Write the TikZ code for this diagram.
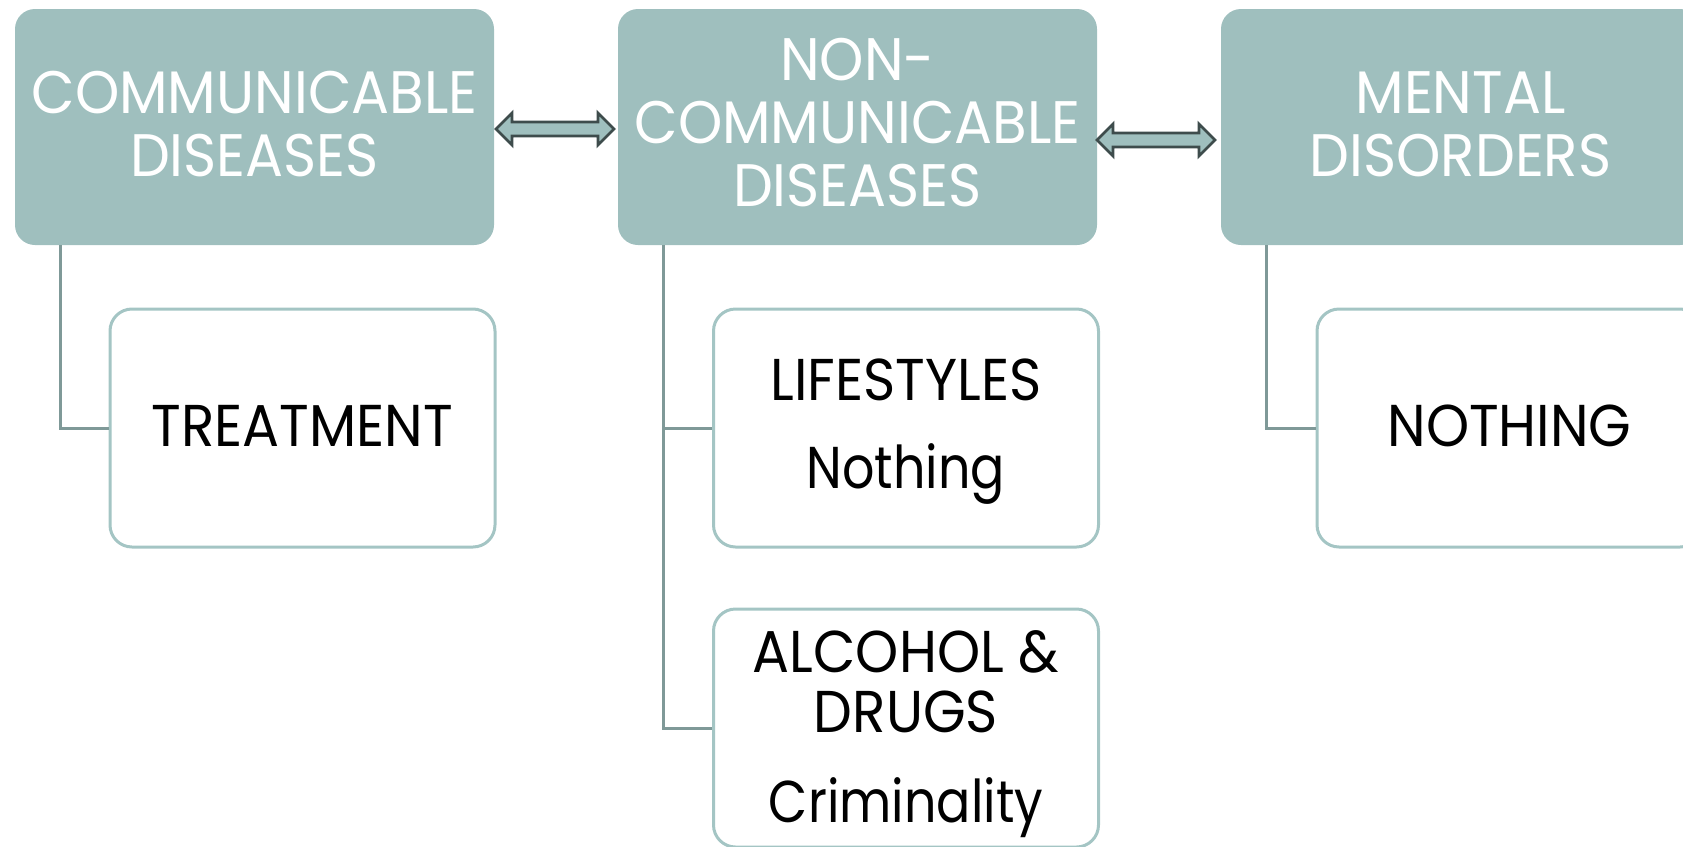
\documentclass[tikz,border=0pt]{standalone}
\usepackage{fontspec}
\setmainfont{Poppins}[FakeStretch=0.93]
\definecolor{hdrfill}{RGB}{159,191,190}
\definecolor{boxline}{RGB}{164,197,196}
\definecolor{connline}{RGB}{127,153,152}
\definecolor{arrline}{RGB}{62,76,76}
\tikzset{
  hdr/.style={rectangle, rounded corners=20pt, fill=hdrfill, draw=none,
    minimum width=479pt, minimum height=236pt, inner sep=0pt},
  hdrtext/.style={inner sep=0pt, align=center, text=white,
    font=\fontsize{60}{63}\selectfont\addfontfeatures{FakeStretch=0.94}},
  child/.style={rectangle, rounded corners=22pt, fill=white, draw=boxline, line width=3pt,
    minimum width=385pt, minimum height=238pt, inner sep=0pt},
  childtext/.style={inner sep=0pt, align=center, text=black,
    font=\fontsize{59}{60}\selectfont},
  conn/.style={draw=connline, line width=3pt},
  dblarrow/.style={fill=hdrfill, draw=arrline, line width=2.7pt, line join=miter}
}
\newcommand{\narrowtext}[1]{{\addfontfeatures{FakeStretch=0.86}#1}}
\newcommand{\dblarr}[3]{% center x, center y, name
  \coordinate (#3) at (#1,#2);
  \draw[dblarrow] ([shift={(-59pt,0pt)}]#3) -- ([shift={(-43pt,16pt)}]#3) -- ([shift={(-43pt,7pt)}]#3)
    -- ([shift={(43pt,7pt)}]#3) -- ([shift={(43pt,16pt)}]#3) -- ([shift={(59pt,0pt)}]#3)
    -- ([shift={(43pt,-16pt)}]#3) -- ([shift={(43pt,-7pt)}]#3) -- ([shift={(-43pt,-7pt)}]#3)
    -- ([shift={(-43pt,-16pt)}]#3) -- cycle;
}
\begin{document}
\begin{tikzpicture}[x=1pt,y=-1pt]
\useasboundingbox (0,0) rectangle (1683,846);
\clip (0,0) rectangle (1683,846);
\node[hdr] (b1) at (254.5,127) {};
\node[hdr] (b2) at (857.5,127) {};
\node[hdr] (b3) at (1460.5,127) {};
\node[hdrtext] (t1) at ([yshift=3pt]b1.center) {COMMUNICABLE\\DISEASES};
\node[hdrtext] (t2) at ([yshift=4pt]b2.center) {NON-\\COMMUNICABLE\\DISEASES};
\node[hdrtext] (t3) at ([yshift=3pt]b3.center) {MENTAL\\DISORDERS};
\node[child] (c1) at (302.5,428) {};
\node[child] (c2) at (906,428) {};
\node[child] (c3) at (906,728) {};
\node[child] (c4) at (1509.5,428) {};
\node[childtext] (u1) at ([yshift=2pt]c1.center) {TREATMENT};
\node[childtext] (u2) at ([yshift=-4pt]c2.center) {LIFESTYLES\\[28pt]\narrowtext{Nothing}};
\node[childtext] (u3) at ([yshift=-6pt]c3.center) {ALCOHOL \&\\DRUGS\\[30pt]\narrowtext{Criminality}};
\node[childtext] (u4) at ([yshift=2pt]c4.center) {NOTHING};
\dblarr{555}{129}{a1}
\dblarr{1156}{140}{a2}
\draw[conn] ([xshift=46pt]b1.south west) |- (c1.west);
\draw[conn] ([xshift=46pt]b2.south west) |- (c2.west);
\draw[conn] ([xshift=46pt]b2.south west) |- (c3.west);
\draw[conn] ([xshift=46pt]b3.south west) |- (c4.west);
\end{tikzpicture}
\end{document}
